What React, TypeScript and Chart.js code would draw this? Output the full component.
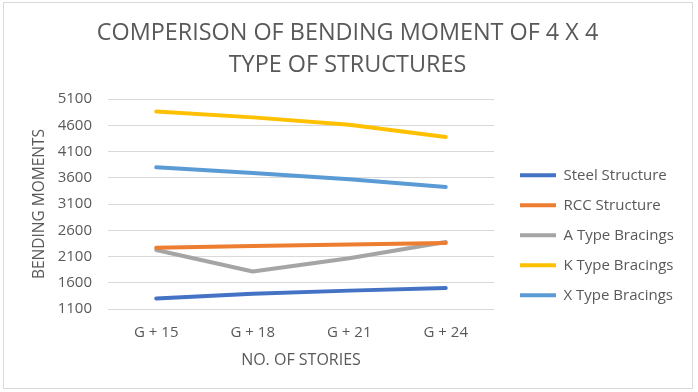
import React, { useEffect, useRef } from "react";
import { Chart, registerables } from "chart.js";
Chart.register(...registerables);

const categories = ["G + 15", "G + 18", "G + 21", "G + 24"];
const steelStructure = [1300, 1390, 1450, 1500];
const rccStructure = [2265, 2300, 2330, 2355];
const aTypeBracings = [2225, 1815, 2065, 2375];
const kTypeBracings = [4860, 4750, 4610, 4375];
const xTypeBracings = [3800, 3690, 3570, 3425];
const yMin = 1100;
const yMax = 5100;
const yStep = 500;
const titleLines = ["COMPERISON OF BENDING MOMENT OF 4 X 4", "TYPE OF STRUCTURES"];

const FONT = "'Open Sans', sans-serif";
const TEXT = "#595959";

export default function App() {
  const ref = useRef<HTMLCanvasElement | null>(null);
  useEffect(() => {
    document.body.style.margin = "0";
    const mk = (label: string, data: number[], color: string) => ({
      label,
      data,
      borderColor: color,
      backgroundColor: color,
      borderWidth: 4,
      borderCapStyle: "round" as const,
      borderJoinStyle: "round" as const,
      pointRadius: 0,
      tension: 0,
    });
    const chart = new Chart(ref.current!, {
      type: "line",
      data: {
        labels: categories,
        datasets: [
          mk("Steel Structure", steelStructure, "#4472C4"),
          mk("RCC Structure", rccStructure, "#ED7D31"),
          mk("A Type Bracings", aTypeBracings, "#A5A5A5"),
          mk("K Type Bracings", kTypeBracings, "#FFC000"),
          mk("X Type Bracings", xTypeBracings, "#5B9BD5"),
        ],
      },
      options: {
        animation: false,
        responsive: false,
        devicePixelRatio: 1,
        layout: { padding: { left: 20, right: 23, top: 0, bottom: 22.4 } },
        plugins: {
          title: {
            display: true,
            text: titleLines,
            color: TEXT,
            font: { family: FONT, size: 23.4, weight: "normal", lineHeight: 32 / 23.4 },
            padding: { top: 17, bottom: 18 },
          },
          legend: {
            position: "right",
            align: "center",
            maxWidth: 170,
            title: {
              display: true,
              text: " ",
              font: { family: FONT, size: 10, lineHeight: 1 },
              padding: { top: 91, bottom: 0 },
            },
            labels: {
              color: TEXT,
              font: { family: FONT, size: 15 },
              boxWidth: 36,
              boxHeight: 4,
              padding: 15,
              generateLabels: (c: any) =>
                Chart.defaults.plugins.legend.labels.generateLabels(c).map((l: any) => ({
                  ...l,
                  lineWidth: 0,
                  strokeStyle: l.fillStyle,
                })),
            },
          },
          tooltip: { enabled: false },
        },
        scales: {
          x: {
            offset: true,
            grid: { display: false, drawTicks: false },
            border: { display: false },
            afterFit: (s: any) => {
              s.height = 60.6;
            },
            ticks: { color: TEXT, font: { family: FONT, size: 15 }, padding: 15 },
            title: {
              display: true,
              text: "NO. OF STORIES",
              color: TEXT,
              font: { family: FONT, size: 16 },
              padding: { top: 0, bottom: 0 },
            },
          },
          y: {
            min: yMin,
            max: yMax,
            grid: { color: "#D9D9D9", lineWidth: 1, drawTicks: false },
            border: { display: false },
            afterFit: (s: any) => {
              s.width = 88;
            },
            ticks: {
              stepSize: yStep,
              color: TEXT,
              font: { family: FONT, size: 15 },
              padding: 16,
              callback: (v: any) => String(v),
            },
            title: {
              display: true,
              text: "BENDING MOMENTS",
              color: TEXT,
              font: { family: FONT, size: 15.5 },
              padding: { top: 10.7, bottom: 0 },
            },
          },
          spacer: {
            type: "linear",
            position: "right",
            display: true,
            grid: { display: false, drawTicks: false },
            border: { display: false },
            ticks: { display: false },
            afterFit: (s: any) => {
              s.width = 11;
            },
          },
        },
      },
    });
    return () => chart.destroy();
  }, []);
  return (
    <div style={{ position: "relative", width: 698, height: 392, background: "#fff" }}>
      <canvas ref={ref} width={698} height={392} style={{ display: "block" }} />
      <div
        style={{
          position: "absolute",
          left: 3,
          top: 2,
          width: 690,
          height: 387,
          border: "1px solid #D9D9D9",
          boxSizing: "border-box",
          pointerEvents: "none",
        }}
      />
    </div>
  );
}
